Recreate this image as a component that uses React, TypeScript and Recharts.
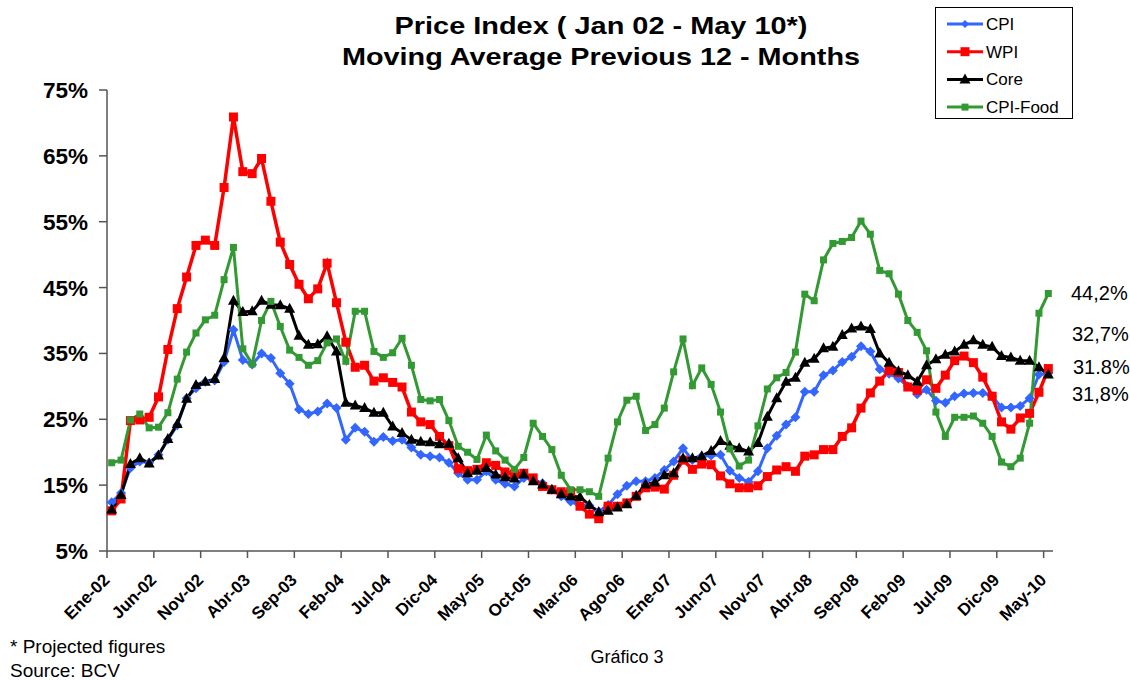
import React from 'react';
import { LineChart, Line, XAxis, YAxis } from 'recharts';

// monthly, Ene-02 .. May-10 (101 points)
const cpi = [
  12.4, 13.8, 17.6, 18.6, 18.4, 19.6, 21.9, 24.1, 28.2, 29.7,
  30.7, 30.9, 33.7, 38.6, 34.0, 33.3, 35.0, 34.3, 32.0, 30.4,
  26.5, 25.8, 26.2, 27.4, 26.7, 21.9, 23.7, 23.1, 21.6, 22.3,
  21.7, 21.9, 20.7, 19.6, 19.4, 19.2, 18.4, 16.8, 15.8, 15.8,
  17.1, 15.8, 15.2, 14.8, 16.1, 15.8, 15.3, 14.3, 13.3, 12.5,
  11.9, 11.9, 11.0, 12.0, 13.6, 14.9, 15.6, 15.6, 16.1, 17.3,
  18.6, 20.6, 18.8, 19.4, 19.5, 19.6, 17.2, 16.1, 15.5, 17.1,
  20.6, 22.5, 24.2, 25.3, 29.2, 29.2, 31.7, 32.4, 33.7, 34.5,
  36.1, 35.3, 32.6, 31.9, 31.2, 30.0, 28.8, 29.5, 27.8, 27.5,
  28.5, 28.9, 29.0, 29.0, 28.5, 26.8, 26.8, 27.0, 28.2, 31.8,
  32.0,
];

const wpi = [
  11.1, 12.9, 24.8, 24.9, 25.3, 28.4, 35.6, 41.8, 46.6, 51.4,
  52.2, 51.4, 60.2, 70.9, 62.6, 62.3, 64.6, 58.1, 51.9, 48.5,
  45.5, 43.3, 44.8, 48.7, 42.7, 36.7, 32.9, 33.2, 30.8, 31.3,
  30.6, 29.9, 26.1, 24.6, 24.2, 22.4, 21.0, 17.5, 17.2, 17.4,
  18.4, 18.0, 17.0, 16.7, 16.8, 16.1, 14.8, 14.3, 14.0, 14.0,
  11.8, 10.6, 9.9, 11.8, 11.8, 12.3, 13.3, 14.6, 14.7, 14.4,
  16.5, 18.8, 17.4, 18.2, 18.1, 16.4, 15.2, 14.6, 14.6, 14.9,
  16.3, 17.3, 17.8, 17.1, 19.4, 19.6, 20.4, 20.4, 22.4, 23.7,
  26.7, 29.0, 30.8, 32.4, 32.1, 29.9, 29.4, 31.0, 29.7, 31.7,
  33.9, 34.6, 33.6, 31.4, 28.5, 24.6, 23.5, 25.2, 25.9, 29.1,
  32.7,
];

const core = [
  11.3, 13.5, 18.2, 19.1, 18.3, 19.5, 22.0, 24.3, 28.1, 30.2,
  30.7, 31.1, 34.3, 43.0, 41.3, 41.4, 43.0, 42.4, 42.3, 41.8,
  37.7, 36.3, 36.4, 37.6, 35.3, 27.5, 27.1, 26.7, 26.0, 26.0,
  23.9, 22.9, 21.9, 21.6, 21.5, 21.2, 21.3, 19.1, 16.8, 17.2,
  17.6, 16.6, 16.2, 16.0, 16.6, 15.6, 15.1, 14.3, 13.6, 13.3,
  13.2, 12.0, 10.9, 11.1, 11.6, 12.1, 13.4, 15.1, 15.4, 16.5,
  16.8, 19.1, 19.1, 19.4, 20.2, 21.7, 21.0, 20.6, 20.1, 21.4,
  25.4, 28.2, 30.7, 31.3, 33.6, 34.2, 35.8, 36.0, 37.8, 38.8,
  39.1, 38.7, 35.0, 33.6, 32.3, 31.7, 30.7, 33.2, 34.1, 34.8,
  35.3, 36.3, 37.0, 36.3, 36.0, 34.6, 34.4, 33.9, 33.9, 32.9,
  31.8,
];

const food = [
  18.4, 18.8, 24.9, 25.8, 23.7, 23.8, 26.0, 31.1, 35.2, 38.1,
  40.1, 40.8, 46.2, 51.1, 35.7, 33.4, 40.0, 42.9, 39.1, 35.5,
  34.4, 33.2, 33.9, 36.6, 37.2, 33.8, 41.4, 41.4, 35.3, 34.4,
  35.1, 37.3, 33.2, 28.0, 27.8, 28.0, 24.8, 20.9, 20.0, 18.9,
  22.6, 20.2, 18.8, 17.4, 19.2, 24.4, 22.4, 20.4, 16.5, 14.3,
  14.3, 14.0, 13.3, 19.1, 24.6, 27.9, 28.5, 23.3, 24.2, 26.7,
  32.2, 37.2, 30.1, 32.8, 30.3, 26.1, 20.5, 17.9, 18.8, 24.0,
  29.6, 31.3, 32.1, 35.2, 44.0, 43.0, 49.2, 51.7, 52.0, 52.6,
  55.1, 53.1, 47.6, 47.1, 44.0, 40.0, 38.2, 35.4, 26.1, 22.4,
  25.3, 25.3, 25.5, 24.4, 22.4, 18.5, 17.8, 19.1, 24.4, 41.1,
  44.1,
];

const xLabels = [
  'Ene-02', 'Jun-02', 'Nov-02', 'Abr-03', 'Sep-03', 'Feb-04', 'Jul-04',
  'Dic-04', 'May-05', 'Oct-05', 'Mar-06', 'Ago-06', 'Ene-07', 'Jun-07',
  'Nov-07', 'Abr-08', 'Sep-08', 'Feb-09', 'Jul-09', 'Dic-09', 'May-10',
];
const yTicks = [5, 15, 25, 35, 45, 55, 65, 75];
// tick marks sit between months, every 5th boundary
const xTicks = xLabels.map((_, k) => k * 5 - 0.5);

const endLabels = [
  { text: '44,2%', x: 1071, y: 300 },
  { text: '32,7%', x: 1072, y: 341 },
  { text: '31.8%', x: 1073, y: 374 },
  { text: '31,8%', x: 1072, y: 401 },
];

const data = cpi.map((v, i) => ({ i, cpi: v, wpi: wpi[i], core: core[i], food: food[i] }));

const FONT = '"Liberation Sans", Arial, sans-serif';
const W = 1130;
const H = 680;
const Y_AXIS_W = 107;
const M_RIGHT = 77;
const HALF = (W - Y_AXIS_W - M_RIGHT) / data.length / 2;

const BLUE = '#3366ff';
const RED = '#ff0000';
const GREEN = '#339933';
const AXIS = '#555555';

const diamond = (p: any, fill: string, r: number) => {
  if (p.cx == null || p.cy == null) return <g key={p.index} />;
  const { cx, cy } = p;
  return <path key={p.index} d={`M${cx},${cy - r}L${cx + r},${cy}L${cx},${cy + r}L${cx - r},${cy}Z`} fill={fill} />;
};
const square = (p: any, fill: string, s: number) => {
  if (p.cx == null || p.cy == null) return <g key={p.index} />;
  return <rect key={p.index} x={p.cx - s / 2} y={p.cy - s / 2} width={s} height={s} fill={fill} />;
};
const triangle = (p: any, fill: string) => {
  if (p.cx == null || p.cy == null) return <g key={p.index} />;
  const { cx, cy } = p;
  return <path key={p.index} d={`M${cx},${cy - 6}L${cx + 5.5},${cy + 4}L${cx - 5.5},${cy + 4}Z`} fill={fill} />;
};

const XTick = (props: any) => {
  const { x, y, index } = props;
  const lx = x + HALF - 1;
  const ly = y + 21;
  return (
    <text
      x={lx}
      y={ly}
      transform={`rotate(-45, ${lx}, ${ly})`}
      textAnchor="end"
      fontFamily={FONT}
      fontSize={17}
      fontWeight="bold"
      fill="#000"
    >
      {xLabels[index]}
    </text>
  );
};

const legendItems = [
  { name: 'CPI', color: BLUE, mark: 'diamond' },
  { name: 'WPI', color: RED, mark: 'square' },
  { name: 'Core', color: '#000', mark: 'triangle' },
  { name: 'CPI-Food', color: GREEN, mark: 'small' },
];

const LegendMark = ({ mark, color, cy }: { mark: string; color: string; cy: number }) => {
  const cx = 965;
  if (mark === 'diamond') return diamond({ cx, cy, index: 0 }, color, 4);
  if (mark === 'square') return square({ cx, cy, index: 0 }, color, 9);
  if (mark === 'triangle') return triangle({ cx, cy, index: 0 }, color);
  return square({ cx, cy, index: 0 }, color, 7);
};

export default function App() {
  return (
    <div style={{ position: 'absolute', left: 0, top: 0, width: W, height: H, background: '#fff' }}>
      <LineChart
        width={W}
        height={H}
        data={data}
        margin={{ top: 90, right: M_RIGHT, left: 0, bottom: 89 }}
      >
        <XAxis
          dataKey="i"
          type="number"
          domain={[-0.5, 100.5]}
          ticks={xTicks}
          interval={0}
          tick={<XTick />}
          tickSize={7}
          tickMargin={2}
          height={40}
          stroke={AXIS}
          strokeWidth={1.5}
        />
        <YAxis
          type="number"
          domain={[5, 75]}
          ticks={yTicks}
          interval={0}
          width={Y_AXIS_W}
          tickFormatter={(v: number) => `${v}%`}
          tick={{ fill: '#000', fontSize: 22.5, fontWeight: 'bold', fontFamily: FONT }}
          tickSize={8}
          tickMargin={11}
          stroke={AXIS}
          strokeWidth={1.5}
        />
        <Line
          dataKey="cpi"
          stroke={BLUE}
          strokeWidth={3}
          dot={(p: any) => diamond(p, BLUE, 5)}
          isAnimationActive={false}
        />
        <Line
          dataKey="wpi"
          stroke={RED}
          strokeWidth={3.5}
          dot={(p: any) => square(p, RED, 9)}
          isAnimationActive={false}
        />
        <Line
          dataKey="core"
          stroke="#000"
          strokeWidth={3}
          dot={(p: any) => triangle(p, '#000')}
          isAnimationActive={false}
        />
        <Line
          dataKey="food"
          stroke={GREEN}
          strokeWidth={3}
          dot={(p: any) => square(p, GREEN, 7)}
          isAnimationActive={false}
        />
      </LineChart>

      <svg
        width={W}
        height={H}
        style={{ position: 'absolute', left: 0, top: 0, pointerEvents: 'none' }}
        fontFamily={FONT}
      >
        <text x={601} y={34} textAnchor="middle" fontSize={24} fontWeight="bold" textLength={413} lengthAdjust="spacingAndGlyphs">
          Price Index ( Jan 02 - May 10*)
        </text>
        <text x={601} y={65} textAnchor="middle" fontSize={24} fontWeight="bold" textLength={518} lengthAdjust="spacingAndGlyphs">
          Moving Average Previous 12 - Months
        </text>

        <rect x={935.5} y={7.5} width={137} height={111} fill="#fff" stroke="#000" strokeWidth={1} />
        {legendItems.map((it, k) => {
          const cy = 24 + k * 27.7;
          return (
            <g key={it.name}>
              <line x1={947} x2={983} y1={cy} y2={cy} stroke={it.color} strokeWidth={3} />
              <LegendMark mark={it.mark} color={it.color} cy={cy} />
              <text x={986} y={cy + 6} fontSize={17}>{it.name}</text>
            </g>
          );
        })}

        {endLabels.map((l) => (
          <text key={l.text + l.y} x={l.x} y={l.y} fontSize={20}>{l.text}</text>
        ))}

        <text x={10} y={653} fontSize={19}>* Projected figures</text>
        <text x={10} y={677} fontSize={19}>Source: BCV</text>
        <text x={627} y={663} fontSize={18} textAnchor="middle">Gráfico 3</text>
      </svg>
    </div>
  );
}
